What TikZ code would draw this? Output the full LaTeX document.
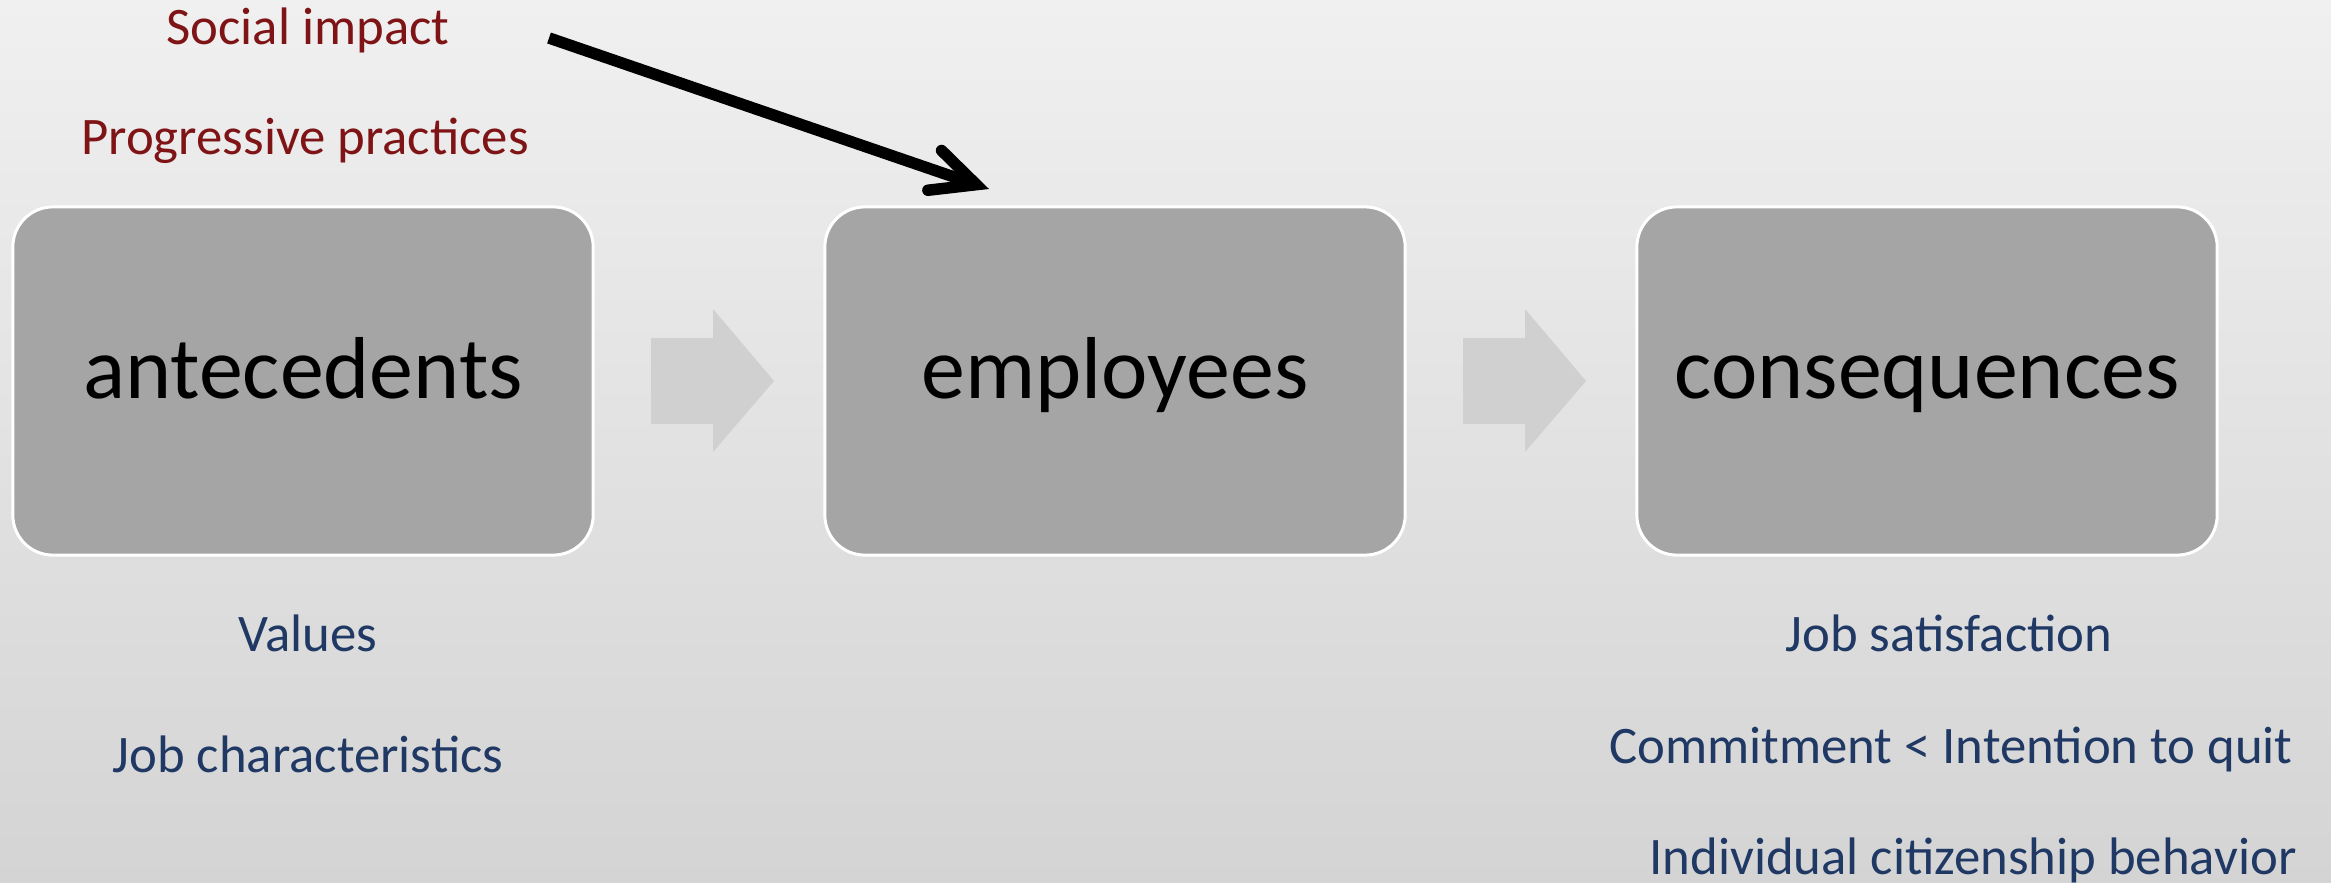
\documentclass[tikz,border=0pt]{standalone}
\usepackage{fontspec}
\setmainfont{Carlito}
\usetikzlibrary{arrows.meta}
\definecolor{bgtop}{HTML}{F0F0F0}
\definecolor{bgbot}{HTML}{D4D4D4}
\definecolor{boxfill}{HTML}{A5A5A5}
\definecolor{flowgray}{HTML}{D0D0D0}
\definecolor{inred}{HTML}{7F1416}
\definecolor{inblue}{HTML}{1F3864}
\tikzset{
  stage/.style={draw=white, line width=0.03cm, fill=boxfill, rounded corners=0.4cm,
    minimum width=5.8cm, minimum height=3.48cm, inner sep=0pt,
    font=\fontsize{25}{30}\selectfont, text height=1.0em, text depth=0em},
  infactor/.style={anchor=base, inner sep=0pt, text=inred, font=\fontsize{15}{18}\selectfont},
  outfactor/.style={anchor=base, inner sep=0pt, text=inblue, font=\fontsize{15}{18}\selectfont},
  flow/.style={fill=flowgray},
  pointer/.style={line width=0.115cm,
    -{Straight Barb[line cap=round, line join=miter, length=0.44cm, width=0.42cm]}}
}
\begin{document}
\begin{tikzpicture}[x=0.01cm, y=-0.01cm]
  % slide background
  \shade[top color=bgtop, bottom color=bgbot] (0,0) rectangle (2331,882);
  \useasboundingbox (0,0) rectangle (2331,882);

  % the three stages
  \node[stage] (ante) at (303,381) {antecedents};
  \node[stage] (emp)  at (1115,381) {employees};
  \node[stage] (cons) at (1927,381) {consequences};

  % block arrows between the stages
  \fill[flow] (651,338) -- (713,338) -- (713,309) -- (774,381) -- (713,452) -- (713,424) -- (651,424) -- cycle;
  \fill[flow] (1463,338) -- (1525,338) -- (1525,309) -- (1586,381) -- (1525,452) -- (1525,424) -- (1463,424) -- cycle;

  % factors acting on employees
  \node[infactor] (social) at (308,45) {Social impact};
  \node[infactor] (prog) at (305,155) {Progressive practices};
  \coordinate (src) at (549,38);
  \coordinate (dst) at (989,189);
  \draw[pointer] (src) -- (dst);

  % antecedent factors
  \node[outfactor] (values) at (308,651) {Values};
  \node[outfactor] (jobchar) at (308,772) {Job characteristics};

  % consequence factors
  \node[outfactor] (jobsat) at (1949,651) {Job satisfaction};
  \node[outfactor] (commit) at (1951,763) {Commitment < Intention to quit};
  \node[outfactor] (ocb) at (1973,874) {Individual citizenship behavior};
\end{tikzpicture}
\end{document}
